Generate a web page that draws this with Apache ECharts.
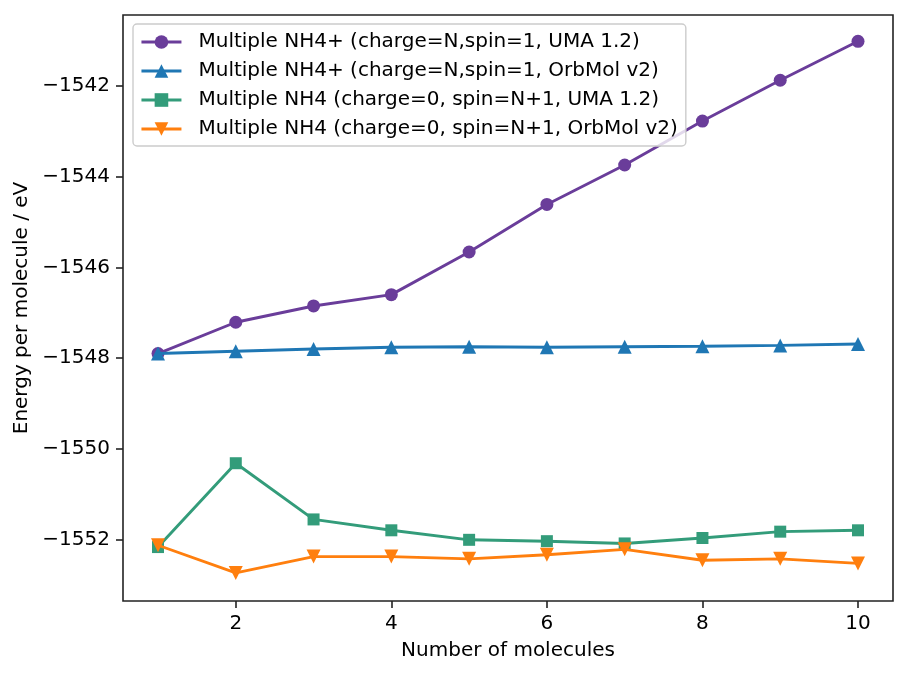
<!DOCTYPE html>
<html>
<head>
<meta charset="utf-8">
<script src="https://cdn.jsdelivr.net/npm/echarts@6/dist/echarts.min.js"></script>
<style>
html,body{margin:0;padding:0;background:#fff;}
#chart{width:907px;height:676px;}
</style>
</head>
<body>
<div id="chart"></div>
<script>
// ---- data ----
var molecules = [1, 2, 3, 4, 5, 6, 7, 8, 9, 10];
var nh4pUMA    = [-1547.90, -1547.21, -1546.85, -1546.60, -1545.66, -1544.61, -1543.74, -1542.77, -1541.87, -1541.01];
var nh4pOrb    = [-1547.90, -1547.85, -1547.80, -1547.76, -1547.75, -1547.76, -1547.75, -1547.74, -1547.72, -1547.69];
var nh4UMA     = [-1552.17, -1550.32, -1551.56, -1551.80, -1552.01, -1552.04, -1552.09, -1551.97, -1551.83, -1551.80];
var nh4Orb     = [-1552.13, -1552.74, -1552.38, -1552.38, -1552.43, -1552.34, -1552.22, -1552.46, -1552.43, -1552.53];
var seriesNames = [
  'Multiple NH4+ (charge=N,spin=1, UMA 1.2)',
  'Multiple NH4+ (charge=N,spin=1, OrbMol v2)',
  'Multiple NH4 (charge=0, spin=N+1, UMA 1.2)',
  'Multiple NH4 (charge=0, spin=N+1, OrbMol v2)'
];
var xTicks = [2, 4, 6, 8, 10];
var yTicks = [-1552, -1550, -1548, -1546, -1544, -1542];
var xLabel = 'Number of molecules';
var yLabel = 'Energy per molecule / eV';

// ---- chart ----
var FONT = 'DejaVu Sans';
var FS = 20;
function pairs(vals) { return molecules.map(function (m, i) { return [m, vals[i]]; }); }
function fmtMinus(v) { return (v < 0 ? '\u2212' : '') + Math.abs(v); }

var colors = ['#6a3d9a', '#1f77b4', '#339c7a', '#ff7f0e'];
var symbols = ['circle', 'triangle', 'rect', 'triangle'];
var symSizes = [13, 14, 12, 14];
var rotates = [0, 0, 0, 180];
var allVals = [nh4pUMA, nh4pOrb, nh4UMA, nh4Orb];

var series = allVals.map(function (vals, i) {
  return {
    name: seriesNames[i],
    type: 'line',
    data: pairs(vals),
    symbol: symbols[i],
    symbolSize: symSizes[i],
    symbolRotate: rotates[i],
    showAllSymbol: true,
    animation: false,
    color: colors[i],
    lineStyle: { width: 2.9, color: colors[i] },
    itemStyle: { color: colors[i] },
    emphasis: { disabled: true },
    z: 2 + i
  };
});

var chart = echarts.init(document.getElementById('chart'), null, { renderer: 'canvas' });
chart.setOption({
  backgroundColor: '#ffffff',
  animation: false,
  textStyle: { fontFamily: FONT },
  grid: {
    left: 123, right: 14, top: 15, bottom: 75,
    show: true, borderColor: '#222222', borderWidth: 1.6, backgroundColor: 'transparent'
  },
  legend: {
    orient: 'vertical',
    left: 133, top: 24,
    itemWidth: 40, itemHeight: 17, itemGap: 9,
    padding: [8, 8, 7, 7],
    backgroundColor: 'rgba(255,255,255,0.8)',
    borderColor: '#cccccc', borderWidth: 1.4, borderRadius: 4,
    lineStyle: { width: 2.9 },
    textStyle: { fontFamily: FONT, fontSize: FS, color: '#000', lineHeight: 20, padding: [0, 0, 0, 12] },
    data: seriesNames
  },
  xAxis: {
    type: 'value',
    min: 0.55, max: 10.45,
    name: xLabel, nameLocation: 'middle', nameGap: 40,
    nameTextStyle: { fontFamily: FONT, fontSize: FS, color: '#000' },
    axisLine: { show: false },
    axisTick: { show: true, customValues: xTicks, length: 7, lineStyle: { color: '#222', width: 1.6 } },
    axisLabel: { customValues: xTicks, margin: 13, fontFamily: FONT, fontSize: FS, color: '#000' },
    splitLine: { show: false }
  },
  yAxis: {
    type: 'value',
    min: -1553.36, max: -1540.43,
    name: yLabel, nameLocation: 'middle', nameGap: 90, nameRotate: 90,
    nameTextStyle: { fontFamily: FONT, fontSize: FS, color: '#000' },
    axisLine: { show: false },
    axisTick: { show: true, customValues: yTicks, length: 7, lineStyle: { color: '#222', width: 1.6 } },
    axisLabel: { customValues: yTicks, margin: 13, fontFamily: FONT, fontSize: FS, color: '#000', formatter: fmtMinus },
    splitLine: { show: false }
  },
  series: series
});
</script>
</body>
</html>
